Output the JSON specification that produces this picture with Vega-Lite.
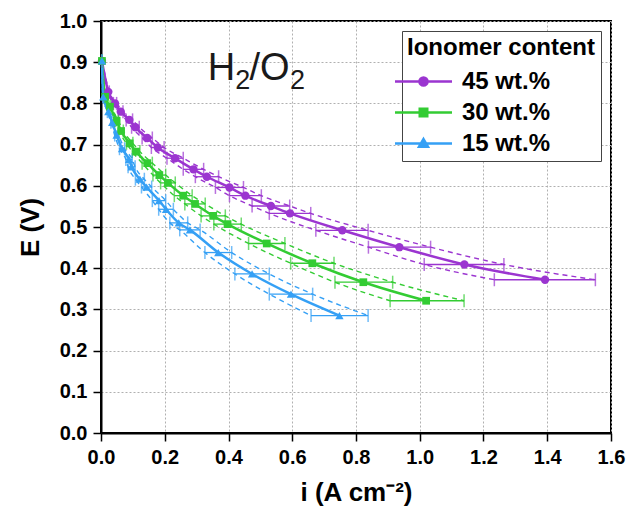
{
  "$schema": "https://vega.github.io/schema/vega-lite/v6.json",
  "width": 510,
  "height": 412,
  "autosize": {"type": "none"},
  "padding": {"left": 101, "top": 21, "right": 20, "bottom": 73},
  "background": "white",
  "config": {
    "font": "Liberation Sans",
    "view": {"stroke": "black", "strokeWidth": 2},
    "axis": {
      "domainColor": "black",
      "domainWidth": 2,
      "tickColor": "black",
      "tickWidth": 1.5,
      "tickSize": 8,
      "labelFont": "Liberation Sans",
      "labelFontSize": 20,
      "labelFontWeight": "bold",
      "labelColor": "black",
      "labelPadding": 6,
      "labelFlush": false,
      "titleFont": "Liberation Sans",
      "titleFontSize": 26,
      "titleFontWeight": "bold",
      "titleColor": "black",
      "gridColor": "#b0b0b0",
      "gridDash": [2, 2],
      "gridWidth": 1
    }
  },
  "datasets": {
    "pol": [
      {"s": "45 wt.%", "i": 0.003, "E": 0.903, "lo": 0.002, "hi": 0.004},
      {"s": "45 wt.%", "i": 0.023, "E": 0.828, "lo": 0.020, "hi": 0.026},
      {"s": "45 wt.%", "i": 0.044, "E": 0.800, "lo": 0.039, "hi": 0.049},
      {"s": "45 wt.%", "i": 0.062, "E": 0.780, "lo": 0.055, "hi": 0.069},
      {"s": "45 wt.%", "i": 0.089, "E": 0.760, "lo": 0.079, "hi": 0.099},
      {"s": "45 wt.%", "i": 0.108, "E": 0.742, "lo": 0.096, "hi": 0.120},
      {"s": "45 wt.%", "i": 0.145, "E": 0.716, "lo": 0.129, "hi": 0.161},
      {"s": "45 wt.%", "i": 0.178, "E": 0.693, "lo": 0.158, "hi": 0.198},
      {"s": "45 wt.%", "i": 0.232, "E": 0.667, "lo": 0.207, "hi": 0.258},
      {"s": "45 wt.%", "i": 0.290, "E": 0.640, "lo": 0.258, "hi": 0.322},
      {"s": "45 wt.%", "i": 0.332, "E": 0.622, "lo": 0.296, "hi": 0.369},
      {"s": "45 wt.%", "i": 0.403, "E": 0.596, "lo": 0.359, "hi": 0.447},
      {"s": "45 wt.%", "i": 0.453, "E": 0.576, "lo": 0.403, "hi": 0.503},
      {"s": "45 wt.%", "i": 0.533, "E": 0.551, "lo": 0.474, "hi": 0.592},
      {"s": "45 wt.%", "i": 0.593, "E": 0.533, "lo": 0.528, "hi": 0.658},
      {"s": "45 wt.%", "i": 0.757, "E": 0.492, "lo": 0.674, "hi": 0.838},
      {"s": "45 wt.%", "i": 0.936, "E": 0.451, "lo": 0.839, "hi": 1.034},
      {"s": "45 wt.%", "i": 1.140, "E": 0.409, "lo": 1.014, "hi": 1.264},
      {"s": "45 wt.%", "i": 1.393, "E": 0.372, "lo": 1.234, "hi": 1.551},
      {"s": "30 wt.%", "i": 0.003, "E": 0.903, "lo": 0.002, "hi": 0.004},
      {"s": "30 wt.%", "i": 0.013, "E": 0.816, "lo": 0.011, "hi": 0.015},
      {"s": "30 wt.%", "i": 0.028, "E": 0.792, "lo": 0.025, "hi": 0.031},
      {"s": "30 wt.%", "i": 0.049, "E": 0.758, "lo": 0.044, "hi": 0.054},
      {"s": "30 wt.%", "i": 0.063, "E": 0.733, "lo": 0.056, "hi": 0.070},
      {"s": "30 wt.%", "i": 0.090, "E": 0.703, "lo": 0.080, "hi": 0.100},
      {"s": "30 wt.%", "i": 0.110, "E": 0.683, "lo": 0.098, "hi": 0.122},
      {"s": "30 wt.%", "i": 0.145, "E": 0.655, "lo": 0.129, "hi": 0.161},
      {"s": "30 wt.%", "i": 0.183, "E": 0.626, "lo": 0.163, "hi": 0.203},
      {"s": "30 wt.%", "i": 0.210, "E": 0.607, "lo": 0.187, "hi": 0.233},
      {"s": "30 wt.%", "i": 0.258, "E": 0.576, "lo": 0.230, "hi": 0.286},
      {"s": "30 wt.%", "i": 0.295, "E": 0.556, "lo": 0.263, "hi": 0.327},
      {"s": "30 wt.%", "i": 0.352, "E": 0.527, "lo": 0.314, "hi": 0.390},
      {"s": "30 wt.%", "i": 0.397, "E": 0.507, "lo": 0.354, "hi": 0.440},
      {"s": "30 wt.%", "i": 0.520, "E": 0.460, "lo": 0.463, "hi": 0.577},
      {"s": "30 wt.%", "i": 0.663, "E": 0.412, "lo": 0.595, "hi": 0.731},
      {"s": "30 wt.%", "i": 0.823, "E": 0.366, "lo": 0.734, "hi": 0.915},
      {"s": "30 wt.%", "i": 1.020, "E": 0.321, "lo": 0.907, "hi": 1.139},
      {"s": "15 wt.%", "i": 0.003, "E": 0.903, "lo": 0.002, "hi": 0.004},
      {"s": "15 wt.%", "i": 0.007, "E": 0.816, "lo": 0.006, "hi": 0.008},
      {"s": "15 wt.%", "i": 0.023, "E": 0.780, "lo": 0.020, "hi": 0.026},
      {"s": "15 wt.%", "i": 0.035, "E": 0.754, "lo": 0.031, "hi": 0.039},
      {"s": "15 wt.%", "i": 0.049, "E": 0.723, "lo": 0.043, "hi": 0.055},
      {"s": "15 wt.%", "i": 0.066, "E": 0.690, "lo": 0.058, "hi": 0.074},
      {"s": "15 wt.%", "i": 0.088, "E": 0.664, "lo": 0.078, "hi": 0.098},
      {"s": "15 wt.%", "i": 0.096, "E": 0.646, "lo": 0.085, "hi": 0.107},
      {"s": "15 wt.%", "i": 0.122, "E": 0.616, "lo": 0.108, "hi": 0.136},
      {"s": "15 wt.%", "i": 0.143, "E": 0.597, "lo": 0.127, "hi": 0.159},
      {"s": "15 wt.%", "i": 0.182, "E": 0.564, "lo": 0.161, "hi": 0.203},
      {"s": "15 wt.%", "i": 0.204, "E": 0.543, "lo": 0.181, "hi": 0.227},
      {"s": "15 wt.%", "i": 0.244, "E": 0.510, "lo": 0.216, "hi": 0.272},
      {"s": "15 wt.%", "i": 0.279, "E": 0.493, "lo": 0.247, "hi": 0.311},
      {"s": "15 wt.%", "i": 0.368, "E": 0.438, "lo": 0.326, "hi": 0.410},
      {"s": "15 wt.%", "i": 0.474, "E": 0.386, "lo": 0.420, "hi": 0.528},
      {"s": "15 wt.%", "i": 0.596, "E": 0.337, "lo": 0.528, "hi": 0.664},
      {"s": "15 wt.%", "i": 0.748, "E": 0.285, "lo": 0.659, "hi": 0.838}
    ],
    "ann": [
      {"t": "H", "part": "main", "x": 0.335, "y": 0.857},
      {"t": "2", "part": "sub", "x": 0.421, "y": 0.836},
      {"t": "/O", "part": "main", "x": 0.466, "y": 0.857},
      {"t": "2", "part": "sub", "x": 0.593, "y": 0.836}
    ]
  },
  "layer": [
    {
      "data": {"name": "pol"},
      "mark": {"type": "line", "strokeWidth": 2.5, "interpolate": "monotone"},
      "encoding": {
        "x": {"field": "i", "type": "quantitative", "scale": {"domain": [0, 1.6], "nice": false}, "title": "i (A cm⁻²)", "axis": {"values": [0, 0.2, 0.4, 0.6, 0.8, 1.0, 1.2, 1.4, 1.6], "format": ".1f", "titlePadding": 12}},
        "y": {"field": "E", "type": "quantitative", "scale": {"domain": [0, 1.0], "nice": false}, "title": "E (V)", "axis": {"values": [0, 0.1, 0.2, 0.3, 0.4, 0.5, 0.6, 0.7, 0.8, 0.9, 1.0], "format": ".1f", "titlePadding": 16}},
        "color": {
          "field": "s",
          "type": "nominal",
          "sort": ["45 wt.%", "30 wt.%", "15 wt.%"],
          "scale": {"domain": ["45 wt.%", "30 wt.%", "15 wt.%"], "range": ["#9b35d0", "#33cc33", "#35a0f5"]},
          "legend": {
            "title": "Ionomer content",
            "orient": "top-right",
            "offset": 10,
            "padding": 5,
            "fillColor": "white",
            "strokeColor": "#444",
            "titleFont": "Liberation Sans",
            "titleFontSize": 24,
            "titleFontWeight": "bold",
            "titleColor": "black",
            "titlePadding": 5,
            "titleLimit": 300,
            "labelFont": "Liberation Sans",
            "labelFontSize": 24,
            "labelFontWeight": "bold",
            "labelColor": "black",
            "labelOffset": 22,
            "labelLimit": 200,
            "symbolSize": 900,
            "rowPadding": 2,
            "encode": {
              "symbols": {
                "update": {
                  "shape": {"signal": "datum.value === '45 wt.%' ? 'M-1.9,0H1.9M-0.27,0A0.27,0.27 0 1,0 0.27,0A0.27,0.27 0 1,0 -0.27,0Z' : datum.value === '30 wt.%' ? 'M-1.9,0H1.9M-0.25,-0.25H0.25V0.25H-0.25Z' : 'M-1.9,0H1.9M0,-0.3L0.3,0.22H-0.3Z'"},
                  "fill": {"scale": "color", "field": "value"},
                  "stroke": {"scale": "color", "field": "value"},
                  "strokeWidth": {"value": 2.5},
                  "opacity": {"value": 1},
                  "fillOpacity": {"value": 1}
                }
              }
            }
          }
        }
      }
    },
    {
      "data": {"name": "pol"},
      "mark": {"type": "line", "strokeDash": [5, 4], "strokeWidth": 1.4, "interpolate": "monotone"},
      "encoding": {
        "x": {"field": "lo", "type": "quantitative", "title": "i (A cm⁻²)"},
        "y": {"field": "E", "type": "quantitative", "title": "E (V)"},
        "color": {"field": "s", "type": "nominal"},
        "detail": {"field": "s"}
      }
    },
    {
      "data": {"name": "pol"},
      "mark": {"type": "line", "strokeDash": [5, 4], "strokeWidth": 1.4, "interpolate": "monotone"},
      "encoding": {
        "x": {"field": "hi", "type": "quantitative", "title": "i (A cm⁻²)"},
        "y": {"field": "E", "type": "quantitative", "title": "E (V)"},
        "color": {"field": "s", "type": "nominal"},
        "detail": {"field": "s"}
      }
    },
    {
      "data": {"name": "pol"},
      "mark": {"type": "errorbar", "ticks": {"size": 13, "thickness": 1.5}, "rule": {"strokeWidth": 1.3}},
      "encoding": {
        "x": {"field": "lo", "type": "quantitative", "title": "i (A cm⁻²)"},
        "x2": {"field": "hi"},
        "y": {"field": "E", "type": "quantitative", "title": "E (V)"},
        "color": {"field": "s", "type": "nominal"}
      }
    },
    {
      "data": {"name": "pol"},
      "transform": [{"filter": "datum.s === '45 wt.%'"}],
      "mark": {"type": "point", "filled": true, "opacity": 1, "size": 70, "shape": "circle"},
      "encoding": {
        "x": {"field": "i", "type": "quantitative", "title": "i (A cm⁻²)"},
        "y": {"field": "E", "type": "quantitative", "title": "E (V)"},
        "color": {"field": "s", "type": "nominal"}
      }
    },
    {
      "data": {"name": "pol"},
      "transform": [{"filter": "datum.s === '30 wt.%'"}],
      "mark": {"type": "point", "filled": true, "opacity": 1, "size": 60, "shape": "square"},
      "encoding": {
        "x": {"field": "i", "type": "quantitative", "title": "i (A cm⁻²)"},
        "y": {"field": "E", "type": "quantitative", "title": "E (V)"},
        "color": {"field": "s", "type": "nominal"}
      }
    },
    {
      "data": {"name": "pol"},
      "transform": [{"filter": "datum.s === '15 wt.%'"}],
      "mark": {"type": "point", "filled": true, "opacity": 1, "size": 70, "shape": "triangle-up"},
      "encoding": {
        "x": {"field": "i", "type": "quantitative", "title": "i (A cm⁻²)"},
        "y": {"field": "E", "type": "quantitative", "title": "E (V)"},
        "color": {"field": "s", "type": "nominal"}
      }
    },
    {
      "data": {"name": "ann"},
      "transform": [{"filter": "datum.part === 'main'"}],
      "mark": {"type": "text", "align": "left", "baseline": "alphabetic", "fontSize": 38, "font": "Liberation Sans", "color": "#1a1a1a"},
      "encoding": {
        "x": {"field": "x", "type": "quantitative"},
        "y": {"field": "y", "type": "quantitative"},
        "text": {"field": "t"}
      }
    },
    {
      "data": {"name": "ann"},
      "transform": [{"filter": "datum.part === 'sub'"}],
      "mark": {"type": "text", "align": "left", "baseline": "alphabetic", "fontSize": 27, "font": "Liberation Sans", "color": "#1a1a1a"},
      "encoding": {
        "x": {"field": "x", "type": "quantitative"},
        "y": {"field": "y", "type": "quantitative"},
        "text": {"field": "t"}
      }
    }
  ]
}
